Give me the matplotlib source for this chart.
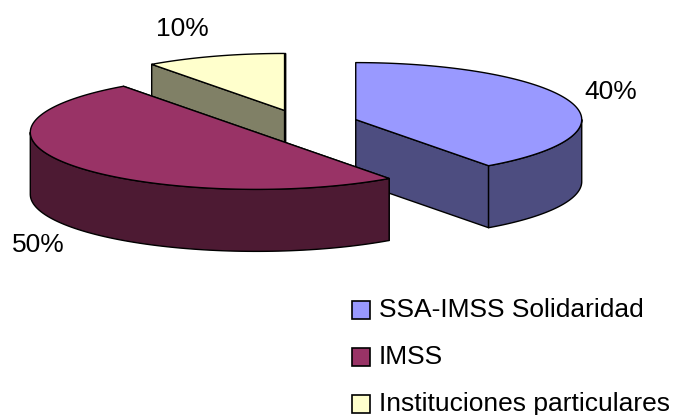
import numpy as np
import matplotlib.pyplot as plt
from matplotlib.patches import Polygon, Rectangle

plt.rcParams['font.family'] = ['Liberation Sans', 'DejaVu Sans']

# data
labels = ['SSA-IMSS Solidaridad', 'IMSS', 'Instituciones particulares']
values = [40, 50, 10]

# styles
top_colors = ['#9999FF', '#993366', '#FFFFCC']
side_colors = ['#4D4D80', '#4D1A33', '#808066']
pct_offsets = [(40, 10), (-35, -17), (-32, 27)]   # label offset from rim, pixels
draw_order = [2, 0, 1]                              # back to front

# 3d pie geometry (pixel space)
cx, cy = 302, 124
rx, ry = 226, 57
depth = 62
explode = 0.25

fig = plt.figure(figsize=(6.96, 4.15), dpi=100)
ax = fig.add_axes([0, 0, 1, 1])
ax.set_xlim(0, 696)
ax.set_ylim(415, 0)
ax.axis('off')

fracs = np.array(values) / sum(values)
ends = 90 - 360 * np.cumsum(fracs)
starts = ends + 360 * fracs


def rim(ox, oy, deg, dz=0.0):
    a = np.radians(deg)
    return ox + rx * np.cos(a), oy - ry * np.sin(a) + dz


for i in draw_order:
    s, e = starts[i], ends[i]
    mid = (s + e) / 2
    ox = cx + explode * rx * np.cos(np.radians(mid))
    oy = cy - explode * ry * np.sin(np.radians(mid))
    kw = dict(ec='black', lw=1.0, joinstyle='round')

    # cut faces
    for a in (s, e):
        px, py = rim(ox, oy, a)
        ax.add_patch(Polygon([(ox, oy), (px, py), (px, py + depth), (ox, oy + depth)],
                             fc=side_colors[i], **kw))

    # outer wall, front part only
    for k in (-1, 0, 1):
        lo = max(e, -180 + 360 * k)
        hi = min(s, 360 * k)
        if hi > lo:
            t = np.linspace(lo, hi, 80)
            xs, ys = rim(ox, oy, t)
            pts = list(zip(xs, ys)) + list(zip(xs[::-1], ys[::-1] + depth))
            ax.add_patch(Polygon(pts, fc=side_colors[i], **kw))

    # top face
    t = np.linspace(e, s, 120)
    xs, ys = rim(ox, oy, t)
    ax.add_patch(Polygon([(ox, oy)] + list(zip(xs, ys)), fc=top_colors[i], **kw))

    # percentage label
    dz = depth if np.sin(np.radians(mid)) < 0 else 0
    ax.annotate(f'{values[i]}%', xy=rim(ox, oy, mid, dz), xytext=pct_offsets[i],
                textcoords='offset pixels', ha='center', va='center', fontsize=19)

# legend
for i, lab in enumerate(labels):
    y = 310 + 47 * i
    ax.add_patch(Rectangle((352, y - 9), 18, 18, fc=top_colors[i], ec='black', lw=1.2))
    ax.text(379, y, lab, ha='left', va='center', fontsize=19)

fig.savefig('out.png', dpi=100)
